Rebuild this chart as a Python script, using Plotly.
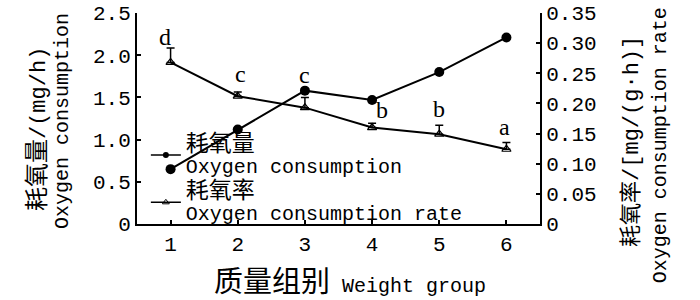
import plotly.graph_objects as go

groups = [1, 2, 3, 4, 5, 6]
consumption = [0.65, 1.12, 1.58, 1.47, 1.80, 2.21]
rate = [0.268, 0.212, 0.193, 0.160, 0.149, 0.124]
rate_err = [0.024, 0.007, 0.017, 0.007, 0.015, 0.011]
letters = ["d", "c", "c", "b", "b", "a"]
left_ticks = [0, 0.5, 1.0, 1.5, 2.0, 2.5]
left_ticktext = ["0", "0.5", "1.0", "1.5", "2.0", "2.5"]
right_ticks = [0, 0.05, 0.10, 0.15, 0.20, 0.25, 0.30, 0.35]
right_ticktext = ["0", "0.05", "0.10", "0.15", "0.20", "0.25", "0.30", "0.35"]

LAT = "Liberation Mono, Noto Sans CJK SC"


def cj(s, size=23):
    return f'<span style="font-size:{size}px;color:black">{s}</span>'


def la(s, size=20):
    return f'<span style="font-size:{size}px;color:black">{s}</span>'


fig = go.Figure()
fig.add_trace(go.Scatter(
    x=groups, y=consumption, mode="lines+markers", showlegend=False,
    line=dict(color="black", width=2),
    marker=dict(symbol="circle", size=10, color="black"),
    yaxis="y"))
fig.add_trace(go.Scatter(
    x=groups, y=rate, mode="lines+markers", showlegend=False,
    line=dict(color="black", width=2),
    marker=dict(symbol="triangle-up-open", size=8, color="black", line=dict(width=1.2)),
    error_y=dict(type="data", symmetric=False, array=rate_err,
                 arrayminus=[0] * len(rate_err), color="black", thickness=1.5, width=4),
    yaxis="y2"))
# legend entries (smaller symbols as in the reference legend)
fig.add_trace(go.Scatter(
    x=[None], y=[None], mode="lines+markers",
    name=cj("耗氧量", 23) + "<br>" + la("Oxygen consumption"),
    line=dict(color="black", width=1.5),
    marker=dict(symbol="circle", size=6, color="black")))
fig.add_trace(go.Scatter(
    x=[None], y=[None], mode="lines+markers",
    name=cj("耗氧率", 23) + "<br>" + la("Oxygen consumption rate"),
    line=dict(color="black", width=1.5),
    marker=dict(symbol="triangle-up-open", size=6, color="black", line=dict(width=1))))

shifts = [-4, 3, 7, -2, 1, 1]
xsh = [-6, 3, 0, 10, 0, -2]
for g, r, e, t, s, dx in zip(groups, rate, rate_err, letters, shifts, xsh):
    fig.add_annotation(x=g, y=r + e, xref="x", yref="y2", text=t, showarrow=False,
                       yanchor="bottom", yshift=s, xshift=dx,
                       font=dict(family="Liberation Serif", size=24, color="black"))

# axis titles as annotations
ttl = dict(showarrow=False, xref="paper", yref="paper", xanchor="center", yanchor="middle",
           font=dict(family=LAT, size=20, color="black"))
fig.add_annotation(x=-0.2457, y=0.450, text=cj("耗氧量", 24) + la("/(mg/h)", 22),
                   textangle=-90, **ttl)
fig.add_annotation(x=-0.186, y=0.488, text="Oxygen consumption", textangle=-90, **ttl)
fig.add_annotation(x=1.228, y=0.393, text=cj("耗氧率", 22) + la("/[mg/(g·h)]", 22),
                   textangle=-90, **ttl)
fig.add_annotation(x=1.298, y=0.374, text="Oxygen consumption rate", textangle=-90, **ttl)
fig.add_annotation(x=0.528, y=-0.28,
                   text=cj("质量组别", 29) + la(" Weight group", 20), **ttl)

tickfont = dict(family="Liberation Mono", size=21, color="black")
fig.update_layout(
    width=700, height=300,
    margin=dict(l=137, r=160, t=13, b=76, autoexpand=False),
    paper_bgcolor="white", plot_bgcolor="white",
    font=dict(family=LAT, size=20, color="black"),
    showlegend=True,
    legend=dict(x=0.022, y=0.462, xanchor="left", yanchor="top", bgcolor="rgba(0,0,0,0)",
                tracegroupgap=0, itemwidth=30,
                font=dict(family=LAT, size=17, color="black")),
    xaxis=dict(range=[0.5, 6.5], tickvals=groups, ticktext=[str(g) for g in groups],
               showline=True, linecolor="black", linewidth=2, ticks="inside", ticklen=4,
               tickcolor="black", tickwidth=1.5, showgrid=False, zeroline=False,
               automargin=False, tickfont=tickfont),
    yaxis=dict(range=[0, 2.5], tickvals=left_ticks, ticktext=left_ticktext,
               showline=True, linecolor="black", linewidth=2, ticks="inside", ticklen=4,
               tickcolor="black", tickwidth=1.5, showgrid=False, zeroline=False,
               automargin=False, tickfont=tickfont),
    yaxis2=dict(range=[0, 0.35], tickvals=right_ticks, ticktext=right_ticktext,
                overlaying="y", side="right",
                showline=True, linecolor="black", linewidth=2, ticks="inside", ticklen=4,
                tickcolor="black", tickwidth=1.5, showgrid=False, zeroline=False,
                automargin=False, tickfont=tickfont),
)

fig.write_html("out.html", post_script="document.body.style.margin='0';",
               config={"displayModeBar": False})
